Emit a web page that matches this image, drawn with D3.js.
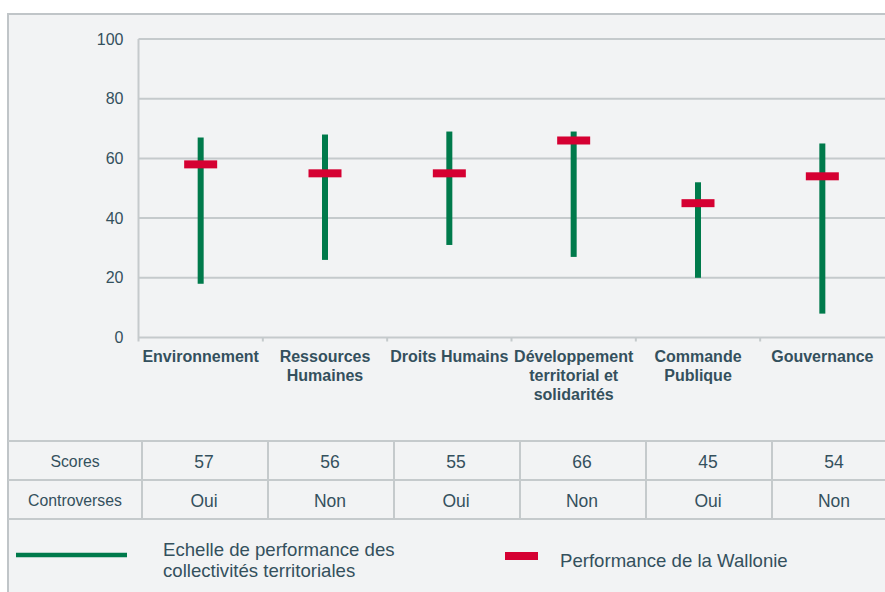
<!DOCTYPE html>
<html>
<head>
<meta charset="utf-8">
<style>
  body { margin: 0; background: #fff; }
  svg { display: block; font-family: "Liberation Sans", Arial, sans-serif; }
  .txt { fill: #34505d; }
</style>
</head>
<body>
<script src="https://cdn.jsdelivr.net/npm/d3@7"></script>
<script>
// data
var categories = ["Environnement", "Ressources Humaines", "Droits Humains",
                  "Développement territorial et solidarités", "Commande Publique", "Gouvernance"];
var catLines = [["Environnement"], ["Ressources", "Humaines"], ["Droits Humains"],
                ["Développement", "territorial et", "solidarités"], ["Commande", "Publique"], ["Gouvernance"]];
var rangeLow = [18, 26, 31, 27, 20, 8];
var rangeHigh = [67, 68, 69, 69, 52, 65];
var wallonie = [58, 55, 55, 66, 45, 54];
var scores = [57, 56, 55, 66, 45, 54];
var controverses = ["Oui", "Non", "Oui", "Non", "Oui", "Non"];
var yTicks = [0, 20, 40, 60, 80, 100];
var legendLabels = [["Echelle de performance des", "collectivités territoriales"], ["Performance de la Wallonie"]];

var W = 885, H = 592,
    green = "#007a4b", red = "#d50032", grid = "#c5cacc";

var svg = d3.select("body").append("svg")
    .attr("width", W).attr("height", H);

// panel background + border
svg.append("rect").attr("x", 8).attr("y", 14).attr("width", W).attr("height", H)
    .attr("fill", "#f2f3f4").attr("stroke", "#c0c5c8").attr("stroke-width", 2);

var x = d3.scaleBand().domain(categories).range([138.5, 884.5]);
var y = d3.scaleLinear().domain([0, 100]).range([337.5, 39]);

// grid lines
svg.append("g").selectAll("line").data(yTicks).enter().append("line")
    .attr("x1", 138.5).attr("x2", W)
    .attr("y1", function(d) { return y(d); }).attr("y2", function(d) { return y(d); })
    .attr("stroke", grid).attr("stroke-width", 2);

// y axis
var yAxis = svg.append("g")
    .attr("transform", "translate(138.5,0)")
    .call(d3.axisLeft(y).tickValues(yTicks).tickSize(0).tickPadding(15));
yAxis.select(".domain").attr("stroke", grid).attr("stroke-width", 2)
    .attr("d", "M0," + (y(0) + 4) + "V" + y(100));
yAxis.selectAll("text").attr("class", "txt").attr("font-size", "16px")
    .attr("font-family", "Liberation Sans, Arial, sans-serif");

// x axis ticks at band edges
var xAxis = svg.append("g")
    .attr("transform", "translate(0," + y(0) + ")")
    .call(d3.axisBottom(x).tickSize(0).tickFormat(""));
xAxis.select(".domain").remove();
xAxis.selectAll(".tick").remove();
xAxis.selectAll("line.edge").data(categories.slice(1)).enter().append("line")
    .attr("class", "edge")
    .attr("x1", function(d) { return x(d); }).attr("x2", function(d) { return x(d); })
    .attr("y1", 0).attr("y2", 4).attr("stroke", grid).attr("stroke-width", 2);

// category labels
svg.append("g").selectAll("text").data(categories).enter().append("text")
    .attr("class", "txt")
    .attr("x", function(d) { return x(d) + x.bandwidth() / 2; })
    .attr("y", 362)
    .attr("text-anchor", "middle")
    .attr("font-weight", "bold").attr("font-size", "16px")
    .attr("fill", "#2e4a56")
    .each(function(d, i) {
        var t = d3.select(this);
        catLines[i].forEach(function(line, j) {
            t.append("tspan").attr("x", x(d) + x.bandwidth() / 2)
                .attr("dy", j === 0 ? 0 : 19).text(line);
        });
    });

// green range bars
svg.append("g").selectAll("rect").data(categories).enter().append("rect")
    .attr("x", function(d) { return x(d) + x.bandwidth() / 2 - 3; })
    .attr("width", 6)
    .attr("y", function(d, i) { return y(rangeHigh[i]); })
    .attr("height", function(d, i) { return y(rangeLow[i]) - y(rangeHigh[i]); })
    .attr("fill", green);

// red markers
svg.append("g").selectAll("rect").data(categories).enter().append("rect")
    .attr("x", function(d) { return x(d) + x.bandwidth() / 2 - 16.5; })
    .attr("width", 33)
    .attr("y", function(d, i) { return y(wallonie[i]) - 4; })
    .attr("height", 8)
    .attr("fill", red);

// table
var colX = d3.scaleBand().domain(categories).range([142, 142 + 126 * 6]);
var rowY = [441, 480, 519];
var tbl = svg.append("g");
tbl.selectAll("line.h").data(rowY).enter().append("line")
    .attr("x1", 8).attr("x2", W)
    .attr("y1", function(d) { return d; }).attr("y2", function(d) { return d; })
    .attr("stroke", grid).attr("stroke-width", 2);
tbl.selectAll("line.v").data(categories).enter().append("line")
    .attr("x1", function(d) { return colX(d); }).attr("x2", function(d) { return colX(d); })
    .attr("y1", rowY[0]).attr("y2", rowY[2])
    .attr("stroke", grid).attr("stroke-width", 2);

tbl.append("text").attr("class", "txt").attr("x", 75).attr("y", 466.5)
    .attr("text-anchor", "middle").attr("font-size", "15.8px").text("Scores");
tbl.append("text").attr("class", "txt").attr("x", 75).attr("y", 506)
    .attr("text-anchor", "middle").attr("font-size", "15.8px").text("Controverses");

tbl.selectAll("text.score").data(categories).enter().append("text")
    .attr("class", "txt score")
    .attr("x", function(d) { return colX(d) + colX.bandwidth() / 2 - 1; })
    .attr("y", 467.5).attr("text-anchor", "middle").attr("font-size", "17.5px")
    .text(function(d, i) { return scores[i]; });
tbl.selectAll("text.contro").data(categories).enter().append("text")
    .attr("class", "txt contro")
    .attr("x", function(d) { return colX(d) + colX.bandwidth() / 2 - 1; })
    .attr("y", 506.5).attr("text-anchor", "middle").attr("font-size", "17.5px")
    .text(function(d, i) { return controverses[i]; });

// legend
var leg = svg.append("g");
leg.append("line").attr("x1", 16).attr("x2", 127).attr("y1", 555).attr("y2", 555)
    .attr("stroke", green).attr("stroke-width", 4.5);
leg.append("rect").attr("x", 505).attr("y", 552).attr("width", 33).attr("height", 8)
    .attr("fill", red);
var l1 = leg.append("text").attr("class", "txt").attr("x", 163).attr("y", 556)
    .attr("font-size", "18.6px");
legendLabels[0].forEach(function(s, j) {
    l1.append("tspan").attr("x", 163).attr("dy", j === 0 ? 0 : 21).text(s);
});
leg.append("text").attr("class", "txt").attr("x", 560).attr("y", 567)
    .attr("font-size", "18.6px").text(legendLabels[1][0]);
</script>
</body>
</html>
